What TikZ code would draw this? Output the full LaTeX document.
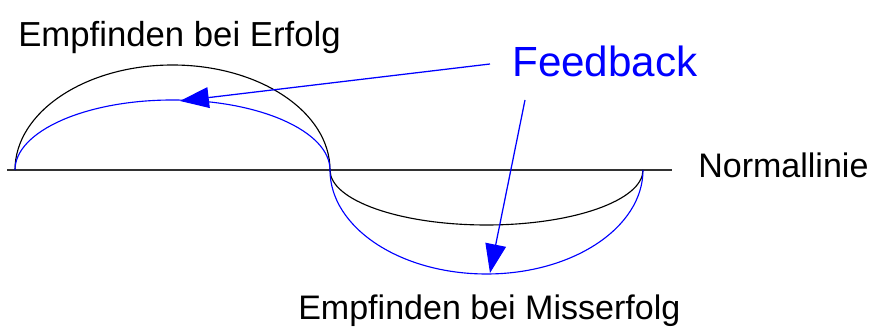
\documentclass[tikz,border=0pt]{standalone}
\usepackage{fontspec}
\setmainfont{Liberation Sans}
\usepackage{xcolor}
\usepackage{tikz}
\usetikzlibrary{arrows.meta, positioning}
\definecolor{fbblue}{RGB}{0,0,255}
\definecolor{linegray}{RGB}{50,50,50}
\tikzset{
	lbl/.style={inner sep=0pt, anchor=base west, font=\fontsize{24.2}{28}\selectfont},
	fblbl/.style={lbl, text=fbblue, font=\fontsize{30}{35}\selectfont},
	normal/.style={draw=linegray, line width=1.1pt},
	feel/.style={line width=0.8pt},
	arr/.style={-{Triangle[length=0.72cm, width=0.52cm]}, fbblue, line width=0.9pt},
}

\begin{document}
\begin{tikzpicture}[x=0.025cm, y=0.025cm]
				\useasboundingbox (0,0) rectangle (871,327);
				
				\node[lbl, font=\fontsize{24.7}{28}\selectfont] (erfolg) at (18,280) {Empfinden bei Erfolg};
				\node[fblbl] (fb) at (512,250) {Feedback};
				\node[lbl] (normal) at (698,149) {Normallinie};
				\node[lbl] (misserfolg) at (298,7) {Empfinden bei Misserfolg};
				
				\coordinate (lstart) at (7,157);
				\coordinate (lend) at (672,157);
				\coordinate (upstart) at (15,157);
				\coordinate (cross) at (330,157);
				\coordinate (fbtop) at (490,263);
				\coordinate (fbbot) at (525,227);
				\coordinate (tiptop) at (180,226);
				\coordinate (tipbot) at (490,54);
				
				\draw[normal] (lstart) -- (lend);
				
				\draw[feel, black] (upstart) arc[start angle=180, end angle=0, x radius=157.5, y radius=105];
				\draw[feel, fbblue] (upstart) arc[start angle=180, end angle=0, x radius=157.5, y radius=70];
				\draw[feel, black] (cross) arc[start angle=180, end angle=360, x radius=156.5, y radius=55];
				\draw[feel, fbblue] (cross) arc[start angle=180, end angle=360, x radius=156.5, y radius=104];
				
				\draw[arr] (fbtop) -- (tiptop);
				\draw[arr] (fbbot) -- (tipbot);
				
			\end{tikzpicture}
\end{document}
